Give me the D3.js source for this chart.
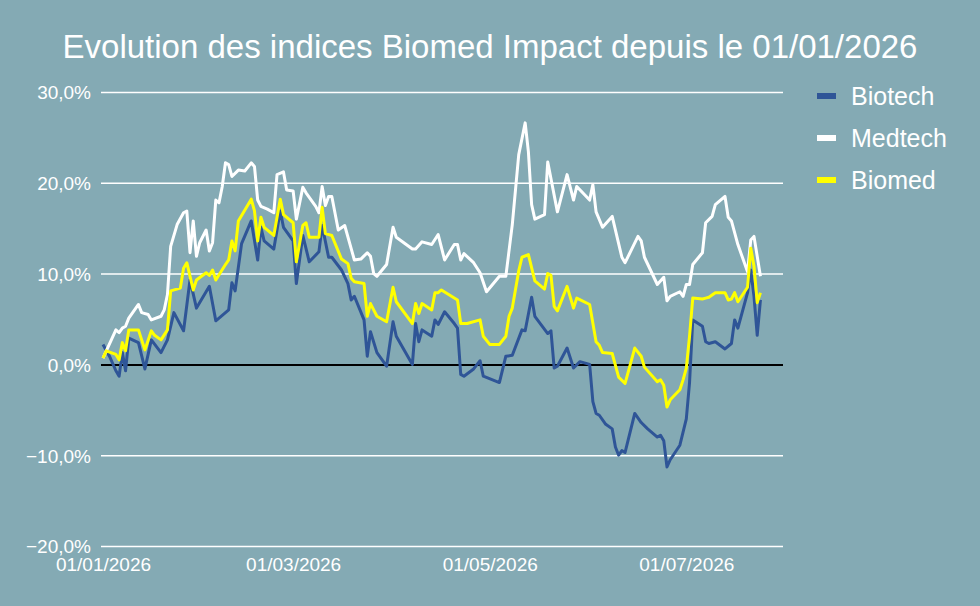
<!DOCTYPE html>
<html>
<head>
<meta charset="utf-8">
<title>Biomed Impact</title>
<script src="https://cdn.jsdelivr.net/npm/d3@7"></script>
<style>
  html, body { margin: 0; padding: 0; background: #84aab4; }
  svg { display: block; font-family: "Liberation Sans", Arial, sans-serif; }
</style>
</head>
<body>
<div id="chart"></div>
<script>
// days since 01/01/2026 and index performance in %
const bioDays = [0,2,4,5,6,7,8,11,13,15,18,20,22,25,27,29,33,35,39,40,41,43,46,48,49,50,53,55,56,59,60,62,64,67,68,70,71,74,76,77,78,81,82,83,85,88,90,91,96,97,98,99,102,103,104,106,109,110,111,112,115,117,118,123,125,127,130,131,133,134,138,139,140,141,144,146,148,151,152,153,154,156,158,159,160,161,162,165,167,169,172,173,174,175,176,179,181,182,183,186,187,188,190,193,195,196,197,200,201,202,203,204];
const bioValues = [2.2,0.9,-0.7,-1.3,1.3,-0.7,2.9,2.4,-0.5,2.7,1.3,2.7,5.7,3.7,9.3,6.2,8.6,4.8,6.0,9.0,8.1,13.3,15.8,11.5,15.1,13.6,12.7,16.9,15.1,13.6,8.9,14.2,11.3,12.4,15.3,11.8,11.8,10.4,8.9,7.1,7.5,4.9,0.9,3.6,1.3,-0.2,4.7,3.1,0.0,4.5,2.5,3.8,3.1,4.9,4.4,5.8,4.5,4.0,-1.1,-1.3,-0.5,0.4,-1.3,-2.0,0.9,1.0,3.8,3.7,7.4,5.3,3.4,3.7,-0.4,-0.2,1.8,-0.4,0.3,0.0,-4.1,-5.4,-5.6,-6.6,-7.1,-9.1,-10.0,-9.5,-9.7,-5.4,-6.4,-7.1,-8.0,-7.8,-8.4,-11.3,-10.5,-8.9,-6.0,-2.0,4.9,4.2,2.5,2.3,2.5,1.7,2.3,4.9,4.0,7.9,10.4,7.5,3.2,7.1];

const medDays = [0,4,5,6,7,8,11,12,14,15,18,19,20,21,23,25,26,27,28,29,30,32,33,34,35,36,37,38,39,40,42,44,46,47,48,49,51,53,54,56,57,59,60,62,63,66,67,68,69,70,71,73,75,78,80,82,83,84,85,88,90,91,96,97,99,102,104,106,109,110,111,112,115,117,119,123,125,127,129,131,132,133,134,137,138,141,144,146,147,151,152,153,155,158,161,162,166,167,168,172,174,175,176,179,180,181,182,183,186,187,189,190,193,194,195,197,200,201,202,204];
const medValues = [0.7,3.8,3.5,4.0,4.2,5.1,6.6,5.7,5.5,4.9,5.3,6.0,7.7,13.0,15.4,16.7,16.9,12.3,15.8,11.9,13.4,14.8,12.5,13.4,18.1,17.8,19.6,22.2,22.0,20.7,21.4,21.3,22.2,21.8,18.1,17.4,17.1,16.7,20.9,21.2,19.2,19.1,16.0,19.5,18.9,17.4,16.7,19.6,17.5,18.5,18.5,14.8,15.3,11.5,11.6,12.3,11.9,10.0,9.7,11.0,15.1,14.0,12.7,12.7,13.5,13.2,14.3,11.5,13.2,13.2,11.5,12.2,11.2,10.1,8.0,9.7,9.7,15.4,23.1,26.6,23.4,17.6,16.0,16.5,22.3,16.8,20.9,18.1,19.6,18.1,19.8,16.8,15.1,16.3,11.8,11.2,14.1,13.6,11.8,8.8,9.6,7.0,7.5,8.0,7.5,8.8,8.8,11.0,12.3,15.6,16.3,17.6,18.5,16.2,15.8,13.2,10.2,13.7,14.1,9.7];

const biomedDays = [0,1,4,5,6,7,8,11,13,15,16,18,20,21,24,25,26,28,29,32,33,34,35,38,39,40,41,42,46,47,48,49,50,53,55,56,59,60,62,63,64,67,68,69,71,74,76,77,78,81,82,83,85,88,90,91,96,97,98,99,102,103,104,105,110,111,113,117,118,120,123,125,126,127,129,130,132,134,137,138,139,140,141,144,146,147,151,153,154,155,158,160,162,165,167,168,172,173,174,175,176,179,180,181,182,183,186,187,188,190,193,194,195,196,197,200,201,202,203,204];
const biomedValues = [0.7,1.5,1.1,0.5,2.4,1.5,3.8,3.8,1.6,3.7,3.2,2.7,3.8,8.1,8.4,10.6,11.2,8.2,9.3,10.1,9.8,10.4,9.3,11.0,11.5,13.6,12.5,15.8,18.2,16.9,13.6,16.2,15.1,14.2,18.2,16.5,15.6,11.3,15.3,15.6,14.0,14.0,17.3,14.4,14.2,11.6,11.1,9.5,9.1,8.9,5.3,6.7,5.3,4.7,8.5,6.9,4.5,6.7,5.6,6.7,6.0,7.9,7.9,8.2,7.1,4.5,4.5,4.9,3.1,2.2,2.2,3.1,5.3,6.2,10.3,11.8,12.1,9.2,8.3,10.0,9.8,6.4,5.9,8.6,6.2,7.3,6.6,2.5,2.1,1.3,1.2,-1.4,-2.1,1.8,0.9,-0.3,-1.9,-1.7,-2.3,-4.7,-3.9,-2.8,-1.7,-0.4,3.1,7.3,7.2,7.3,7.4,7.9,7.9,7.1,7.2,7.9,6.9,8.5,12.8,10.8,6.8,7.9];

const seriesNames = ["Biotech", "Medtech", "Biomed"];
const seriesColors = ["#2f5597", "#ffffff", "#ffff00"];
const yTicks = [-20, -10, 0, 10, 20, 30];
const xTickLabels = ["01/01/2026", "01/03/2026", "01/05/2026", "01/07/2026"];

const w = 980, h = 606;
const start = new Date(2026, 0, 1);
const toDate = d => d3.timeDay.offset(start, d);

const svg = d3.select("#chart").append("svg")
  .attr("width", w)
  .attr("height", h)
  .style("background-color", "#84aab4");

const xScale = d3.scaleTime()
  .domain([start, new Date(2026, 6, 31)])
  .range([103, 783]);

const yScale = d3.scaleLinear()
  .domain([-20, 30])
  .range([546, 92]);

const fr = d3.formatLocale({decimal: ",", thousands: " ", grouping: [3], currency: ["", " €"]});
const pct = v => fr.format(".1f")(v) + "%";

svg.append("text")
  .attr("x", w / 2)
  .attr("y", 58)
  .attr("text-anchor", "middle")
  .attr("fill", "#fff")
  .style("font-size", "33px")
  .text("Evolution des indices Biomed Impact depuis le 01/01/2026");

// gridlines + y labels
const yAxis = d3.axisLeft(yScale)
  .tickValues(yTicks)
  .tickSize(-(xScale.range()[1] - 101))
  .tickPadding(10)
  .tickFormat(pct);

const gy = svg.append("g")
  .attr("transform", "translate(101,0)")
  .call(yAxis);
gy.select(".domain").remove();
gy.selectAll("line")
  .attr("stroke", d => d === 0 ? "#000" : "#fff")
  .attr("stroke-width", d => d === 0 ? 2 : 1.5);
gy.selectAll("text")
  .attr("fill", "#fff")
  .attr("dy", "0.36em")
  .style("font-size", "19px");

// x axis labels
const xTickDates = xTickLabels.map(s => d3.timeParse("%d/%m/%Y")(s));
const xAxis = d3.axisBottom(xScale)
  .tickValues(xTickDates)
  .tickSize(0)
  .tickPadding(12)
  .tickFormat(d3.timeFormat("%d/%m/%Y"));

const gx = svg.append("g")
  .attr("transform", "translate(0,546)")
  .call(xAxis);
gx.select(".domain").remove();
gx.selectAll("text")
  .attr("fill", "#fff")
  .style("font-size", "19px");

// series lines
const allSeries = [
  bioDays.map((d, i) => ({date: toDate(d), value: bioValues[i]})),
  medDays.map((d, i) => ({date: toDate(d), value: medValues[i]})),
  biomedDays.map((d, i) => ({date: toDate(d), value: biomedValues[i]}))
];

const line = d3.line()
  .x(d => xScale(d.date))
  .y(d => yScale(d.value));

svg.selectAll(".serie")
  .data(allSeries)
  .enter()
  .append("path")
  .attr("class", "serie")
  .attr("d", line)
  .attr("fill", "none")
  .attr("stroke", (d, i) => seriesColors[i])
  .attr("stroke-width", 3)
  .attr("stroke-linejoin", "round");

// legend
const legend = svg.append("g")
  .attr("transform", "translate(817,96)");

const item = legend.selectAll("g")
  .data(seriesNames)
  .enter()
  .append("g")
  .attr("transform", (d, i) => "translate(0," + (i * 42) + ")");

item.append("rect")
  .attr("x", 0)
  .attr("y", -3)
  .attr("width", 19)
  .attr("height", 6)
  .attr("fill", (d, i) => seriesColors[i]);

item.append("text")
  .attr("x", 34)
  .attr("y", 0)
  .attr("dy", "0.35em")
  .attr("fill", "#fff")
  .style("font-size", "25px")
  .text(d => d);
</script>
</body>
</html>
